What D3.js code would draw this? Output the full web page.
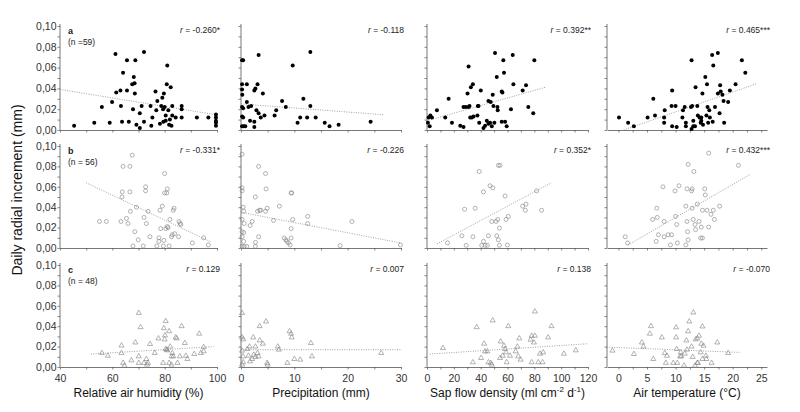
<!DOCTYPE html>
<html>
<head>
<meta charset="utf-8">
<script src="https://cdn.jsdelivr.net/npm/d3@7"></script>
<style>
  body { margin: 0; background: #fff; }
  text { font-family: "Liberation Sans", Arial, sans-serif; }
</style>
</head>
<body>
<script>
// row a: filled circles, row b: open circles, row c: open triangles
// each array holds [x, y] pairs
const humA = [[45.4,0.004],[53.1,0.007],[56,0.022],[59,0.007],[59.9,0.027],[61.2,0.073],[61.5,0.036],[63.1,0.038],[63.3,0.023],[63.7,0.008],[64.1,0.055],[65.6,0.067],[65.6,0.038],[66.3,0.008],[67.6,0.044],[67.9,0.020],[68.2,0.051],[68.5,0.045],[68.8,0.067],[68.6,0.035],[69.2,0.005],[70.5,0.002],[70.5,0.016],[71.2,0.023],[72.1,0.075],[72.1,0.008],[74.6,0.023],[74.9,0.004],[75.3,0.012],[76.5,0.037],[76.8,0.019],[77.2,0.028],[78.2,0.006],[78.7,0.023],[79.1,0.031],[79.4,0.020],[79.5,0.008],[79.7,0.035],[80,0.022],[80.4,0.014],[80.4,0.009],[80.8,0.044],[81,0.062],[81.4,0.019],[81.7,0.005],[82,0.010],[82.3,0.041],[82.6,0.004],[82.9,0.023],[82.9,0.014],[84.2,0.012],[86.5,0.023],[86.5,0.020],[86.5,0.012],[92.3,0.012],[96.7,0.012],[99.6,0.015],[99.6,0.012],[99.6,0.009],[99.6,0.007],[99.6,0.004]];
const preA = [[0.2,0.067],[0.4,0.067],[0.2,0.044],[0.2,0.039],[0.25,0.034],[0.2,0.022],[0.4,0.021],[0.2,0.013],[0.4,0.012],[0.2,0.0035],[0.5,0.0035],[0.8,0.0035],[1.1,0.044],[1.1,0.027],[1.4,0.022],[1.7,0.009],[1.9,0.023],[2.5,0.038],[2.7,0.040],[2.5,0.008],[2.5,0.003],[2.9,0.019],[3.1,0.044],[3.3,0.072],[3.3,0.016],[3.7,0.012],[4.1,0.035],[4.4,0.014],[6.3,0.014],[6.6,0.019],[7.7,0.028],[8.4,0.022],[9.7,0.062],[10.6,0.007],[11.1,0.012],[11.7,0.030],[12.4,0.012],[13,0.075],[13,0.023],[14,0.012],[15.7,0.007],[16.6,0.0035],[18.3,0.005],[24.3,0.008]];
const sapA = [[0.7,0.007],[1.2,0.012],[2,0.0035],[2.5,0.014],[3.7,0.012],[7.4,0.019],[13.6,0.012],[16.1,0.030],[18.6,0.007],[24.8,0.004],[27.2,0.022],[27.2,0.003],[28.9,0.022],[30.2,0.035],[31,0.061],[31,0.022],[31.7,0.023],[32.2,0.012],[32.7,0.041],[33.4,0.012],[34.2,0.044],[34.7,0.013],[37.6,0.014],[37.9,0.023],[38.4,0.023],[38.9,0.007],[40.1,0.038],[42.1,0.002],[43.3,0.004],[44.6,0.009],[45.8,0.028],[45.8,0.006],[47,0.007],[47.5,0.027],[48.3,0.0035],[49,0.034],[49.5,0.023],[50.2,0.007],[50.7,0.074],[52,0.051],[52.5,0.022],[52.7,0.019],[55.7,0.037],[56.2,0.036],[55.7,0.008],[56.9,0.067],[57.4,0.055],[58.2,0.008],[59.4,0.0035],[62.6,0.020],[63.9,0.072],[64.4,0.044],[71.3,0.038],[73.8,0.043],[75.5,0.022],[79.2,0.016],[80,0.067]];
const tmpA = [[0.1,0.012],[1.7,0.007],[2.7,0.0035],[5.1,0.012],[6.1,0.030],[6.4,0.014],[8,0.012],[8,0.007],[8.1,0.019],[9.3,0.023],[9.4,0.038],[9.4,0.0035],[10,0.023],[10.2,0.003],[11.2,0.012],[11.3,0.019],[11.6,0.022],[11.8,0.007],[11.8,0.0035],[12.7,0.022],[12.8,0.067],[12.8,0.001],[12.9,0.023],[13.1,0.0035],[13.1,0.009],[13.4,0.0035],[13.5,0.041],[13.8,0.023],[13.9,0.014],[14.2,0.012],[14.4,0.007],[14.5,0.009],[14.5,0.012],[14.7,0.035],[14.8,0.005],[15.2,0.051],[15.4,0.014],[15.5,0.044],[15.6,0.022],[15.7,0.007],[15.9,0.019],[16,0.012],[16.4,0.072],[16.5,0.008],[16.6,0.062],[16.9,0.022],[17.4,0.074],[17.4,0.035],[17.7,0.016],[17.8,0.043],[17.9,0.037],[18.2,0.034],[18.4,0.028],[18.5,0.007],[19.2,0.027],[19.5,0.038],[20.5,0.044],[21.6,0.067],[22.2,0.055]];

const humB = [[55.1,0.026],[57.7,0.026],[63.3,0.026],[63.7,0.050],[63.8,0.055],[64.1,0.080],[65.4,0.029],[66,0.024],[66.7,0.080],[66.7,0.055],[66.9,0.036],[67.6,0.091],[67.9,0.002],[68.6,0.016],[69.2,0.040],[69.9,0.008],[71.8,0.002],[72.1,0.030],[72.7,0.060],[72.7,0.056],[73,0.024],[73.7,0.036],[74.4,0.011],[77,0.002],[77.8,0.010],[77.8,0.0065],[78.2,0.037],[78.5,0.019],[79.1,0.041],[79.5,0.002],[79.7,0.0075],[80,0.054],[80,0.073],[80.4,0.019],[80.8,0.054],[81,0.058],[81,0.021],[81.3,0.020],[81.7,0.002],[82,0.028],[82.6,0.011],[82.9,0.013],[83.3,0.037],[83.6,0.039],[83.8,0.014],[85.3,0.011],[85.5,0.026],[85.9,0.024],[86.2,0.023],[90.6,0.005],[94.9,0.010],[96.7,0.003]];
const preB = [[0.2,0.092],[0.2,0.059],[0.2,0.056],[0.4,0.040],[0.5,0.036],[0.2,0.028],[0.6,0.024],[0.2,0.016],[0.5,0.015],[0.2,0.011],[0.5,0.0065],[0.2,0.0016],[0.6,0.0016],[1.1,0.0016],[1.7,0.022],[2.1,0.026],[2.7,0.050],[2.7,0.0055],[2.7,0.0016],[3.1,0.036],[3.3,0.080],[3.3,0.011],[3.5,0.037],[3.7,0.037],[4.6,0.073],[4.6,0.036],[4.7,0.058],[4.9,0.039],[6.1,0.027],[7.2,0.041],[8.1,0.0098],[8.4,0.008],[8.6,0.0065],[8.9,0.005],[9.2,0.003],[9.4,0.054],[9.5,0.054],[9.4,0.019],[9.4,0.0098],[9.7,0.028],[12.5,0.031],[12.5,0.024],[18.6,0.0023],[20.8,0.026],[29.9,0.003]];
const sapB = [[15.3,0.005],[26,0.012],[28,0.038],[29.2,0.0026],[34.2,0.011],[35.9,0.039],[38.9,0.075],[40.8,0.0026],[42.1,0.055],[42.1,0.0065],[43.3,0.0026],[45,0.0026],[45.8,0.012],[47,0.061],[49,0.059],[48.3,0.026],[51.5,0.026],[52,0.012],[52.7,0.028],[53.2,0.008],[53.2,0.081],[54.5,0.081],[54,0.0195],[54,0.0026],[58.2,0.051],[58.9,0.028],[59.9,0.003],[60.6,0.031],[71.3,0.041],[73.3,0.037],[73.8,0.043],[81.7,0.056],[85.4,0.037]];
const tmpB = [[1.2,0.011],[1.6,0.005],[6,0.028],[6.6,0.0065],[6.7,0.039],[6.8,0.030],[7,0.013],[7.8,0.060],[8,0.026],[8,0.011],[8.7,0.013],[9.3,0.013],[9.1,0.003],[9.9,0.056],[10,0.031],[10.2,0.023],[10.3,0.005],[10.6,0.061],[11.8,0.041],[11.8,0.003],[12,0.026],[12.1,0.016],[12.2,0.008],[12.2,0.082],[12,0.058],[12.8,0.056],[12.9,0.058],[12.9,0.039],[13.1,0.028],[13.2,0.075],[13.4,0.023],[13.5,0.018],[13.8,0.043],[14.1,0.026],[14.4,0.0098],[14.7,0.0098],[14.5,0.0205],[14.7,0.037],[15.1,0.058],[15.2,0.052],[15.5,0.037],[15.8,0.0205],[15.8,0.093],[16.2,0.033],[16.6,0.037],[16.8,0.028],[17.7,0.041],[21,0.081]];

const humC = [[56,0.0137],[58.3,0.011],[63.5,0.021],[63.5,0.0137],[64.1,0.004],[64.6,0.0013],[67.3,0.0065],[68.8,0.024],[70.1,0.053],[70.1,0.0104],[70.8,0.039],[70.1,0.004],[72.1,0.004],[73,0.0078],[73.3,0.0023],[73.6,0.004],[74.4,0.0225],[76.2,0.0137],[77.6,0.028],[79.4,0.004],[79.7,0.038],[80,0.027],[80.1,0.031],[80.4,0.045],[80.4,0.0176],[80.8,0.017],[81,0.0163],[81.7,0.035],[81.7,0.004],[82.1,0.020],[82.6,0.0023],[82.7,0.0104],[82.9,0.0137],[83.3,0.0104],[84.2,0.029],[84.6,0.028],[84.9,0.004],[85.8,0.0104],[86.5,0.040],[87.7,0.0235],[88.1,0.011],[88.7,0.0078],[91.3,0.0127],[93.2,0.0326],[93.8,0.0137],[94.9,0.0195],[94.9,0.0153]];
const preC = [[0.2,0.053],[0.2,0.029],[0.4,0.027],[0.2,0.016],[0.4,0.0104],[0.4,0.0046],[0.2,0.0023],[1.2,0.0176],[1.4,0.011],[1.6,0.020],[1.7,0.0055],[2.1,0.0078],[2.3,0.029],[2.4,0.012],[2.7,0.020],[2.7,0.0098],[3.1,0.0137],[3.3,0.0104],[3.5,0.040],[3.5,0.026],[4.1,0.0228],[4.7,0.0446],[4.9,0.004],[5,0.0023],[6.9,0.020],[7.1,0.017],[8.7,0.004],[9.1,0.035],[9.4,0.0326],[9.5,0.029],[10,0.0078],[11.1,0.0072],[13.1,0.0235],[13.3,0.0104],[26.3,0.0137]];
const sapC = [[11.9,0.0186],[34.2,0.0046],[37.1,0.039],[40.3,0.0088],[42.6,0.0228],[43.3,0.0153],[45,0.0153],[45.8,0.0046],[47.5,0.004],[48.3,0.0023],[49,0.0456],[54.5,0.0088],[54.9,0.025],[56.4,0.011],[57.4,0.0208],[58.2,0.0176],[58.9,0.0143],[59.4,0.0046],[60.6,0.040],[61.9,0.011],[66.1,0.0153],[67.3,0.020],[68,0.0104],[68.8,0.028],[69.8,0.0072],[77.2,0.0267],[78,0.0046],[78,0.0306],[79.7,0.024],[80.4,0.0544],[80.4,0.0306],[82.9,0.0046],[84.2,0.013],[86.1,0.0046],[86.6,0.0143],[90.3,0.029],[92.8,0.040],[102,0.013],[110.9,0.0163]];
const tmpC = [[-1.05,0.016],[2.7,0.0127],[4.1,0.024],[4.4,0.020],[5.5,0.0326],[5.7,0.040],[6.1,0.0078],[7.6,0.029],[8.1,0.0137],[8.5,0.011],[8.3,0.004],[9.6,0.004],[10.1,0.029],[10.1,0.0388],[10.2,0.0176],[10.3,0.004],[10.8,0.0104],[10.9,0.0143],[11,0.0104],[11.5,0.0013],[11.6,0.013],[11.9,0.026],[12,0.017],[12.2,0.035],[12.4,0.0446],[12.8,0.020],[13,0.0098],[13.1,0.0534],[13.4,0.0013],[13.5,0.027],[13.8,0.004],[13.9,0.004],[13.8,0.028],[14.1,0.0306],[14.4,0.0143],[14.5,0.0228],[14.7,0.0397],[14.7,0.0078],[14.9,0.0208],[15.3,0.011],[15.4,0.0078],[16.3,0.004],[17.3,0.024],[19.2,0.0137]];

// fitted lines: [x0, y0, x1, y1]
const fitsA = [[40,0.039,100,0.0145],[0,0.025,26.7,0.0147],[1.2,0.0093,88,0.041],[0.9,0,24.1,0.0444]];
const fitsB = [[50,0.064,98,0.0055],[0,0.035,29.9,0.005],[7.4,0.004,92.8,0.064],[1.7,0.003,23,0.072]];
const fitsC = [[51.8,0.0127,98.7,0.020],[0,0.017,30,0.017],[2,0.0127,120,0.0228],[-2,0.0195,21.2,0.0143]];

const rLabels = [["-0.260*","-0.118","0.392**","0.465***"],
                 ["-0.331*","-0.226","0.352*","0.432***"],
                 ["0.129","0.007","0.138","-0.070"]];
const rowLetters = ["a","b","c"];
const nLabels = ["(n =59)","(n = 56)","(n = 48)"];

const xDomains = [[40,100],[0,30],[0,120],[-2,26]];
const xLabelTicks = [[40,60,80,100],[0,10,20,30],[0,20,40,60,80,100,120],[0,5,10,15,20,25]];
const xTickStep = [10,5,10,2.5];
const yLabelTicks = [0,0.02,0.04,0.06,0.08,0.10];

function main(){
    const canvasWidth = 800;
    const canvasHeight = 412;

    const svg = d3.select("body").append("svg")
        .attr("width", canvasWidth)
        .attr("height", canvasHeight);

    const colLeft = [60, 241, 427, 607];
    const colWidth = [157, 160, 161, 160];
    const rowTop = [26, 146, 265];
    const rowBottom = [130, 248, 367];

    const points = [[humA, preA, sapA, tmpA], [humB, preB, sapB, tmpB], [humC, preC, sapC, tmpC]];
    const fits = [fitsA, fitsB, fitsC];
    const axisColor = "#555";
    const markColor = "#808080";
    const comma = d => d3.format(".2f")(d).replace(".", ",");
    const triangle = d3.symbol().type(d3.symbolTriangle).size(11);

    for (let r = 0; r < 3; r++){
        for (let c = 0; c < 4; c++){
            const xScale = d3.scaleLinear().domain(xDomains[c]).range([colLeft[c], colLeft[c] + colWidth[c]]);
            const yScale = d3.scaleLinear().domain([0, 0.1]).range([rowBottom[r], rowTop[r]]);

            const g = svg.append("g");

            // x axis
            const xd = xDomains[c];
            const xTicks = d3.range(Math.ceil(xd[0] / xTickStep[c]) * xTickStep[c], xd[1] + 0.001, xTickStep[c]);
            const xAxis = g.append("g")
                .attr("transform", "translate(0," + rowBottom[r] + ")")
                .call(d3.axisBottom(xScale).tickValues(xTicks).tickSize(2.5).tickSizeOuter(0)
                    .tickFormat(d => (r === 2 && xLabelTicks[c].includes(d)) ? d : ""));
            xAxis.select(".domain").attr("stroke", axisColor).attr("stroke-width", 0.8);
            xAxis.selectAll(".tick line").attr("stroke", axisColor).attr("stroke-width", 0.7);
            xAxis.selectAll(".tick text")
                .attr("font-size", "10.5px")
                .attr("font-family", "Liberation Sans, Arial, sans-serif")
                .attr("fill", "#333")
                .attr("dy", "0.9em");

            // y axis
            const yAxis = g.append("g")
                .attr("transform", "translate(" + colLeft[c] + ",0)")
                .call(d3.axisLeft(yScale).tickValues(d3.range(0, 0.1001, 0.01)).tickSize(2.5).tickSizeOuter(0)
                    .tickFormat(d => (c === 0 && yLabelTicks.some(v => Math.abs(v - d) < 1e-6)) ? comma(d) : ""));
            yAxis.select(".domain")
                .attr("d", "M0," + rowBottom[r] + "V" + (rowTop[r] - 2))
                .attr("stroke", axisColor).attr("stroke-width", 0.8);
            yAxis.selectAll(".tick line").attr("stroke", axisColor).attr("stroke-width", 0.7);
            yAxis.selectAll(".tick text")
                .attr("font-size", "10.5px")
                .attr("font-family", "Liberation Sans, Arial, sans-serif")
                .attr("fill", "#333")
                .attr("x", -3.5);

            // fitted line
            const f = fits[r][c];
            g.append("line")
                .attr("x1", xScale(f[0])).attr("y1", yScale(f[1]))
                .attr("x2", xScale(f[2])).attr("y2", yScale(f[3]))
                .attr("stroke", "#8a8a8a")
                .attr("stroke-width", 0.8)
                .attr("stroke-dasharray", "1,1.4");

            // points
            const data = points[r][c];
            if (r === 0){
                g.selectAll("circle").data(data).enter().append("circle")
                    .attr("cx", d => xScale(d[0]))
                    .attr("cy", d => yScale(d[1]))
                    .attr("r", 2)
                    .attr("fill", "#000");
            } else if (r === 1){
                g.selectAll("circle").data(data).enter().append("circle")
                    .attr("cx", d => xScale(d[0]))
                    .attr("cy", d => yScale(d[1]))
                    .attr("r", 2)
                    .attr("fill", "none")
                    .attr("stroke", markColor)
                    .attr("stroke-width", 0.6);
            } else {
                g.selectAll("path.tri").data(data).enter().append("path")
                    .attr("class", "tri")
                    .attr("transform", d => "translate(" + xScale(d[0]) + "," + yScale(d[1]) + ")")
                    .attr("d", triangle)
                    .attr("fill", "none")
                    .attr("stroke", markColor)
                    .attr("stroke-width", 0.6);
            }

            // r label
            const rt = g.append("text")
                .attr("x", colLeft[c] + colWidth[c] + 3)
                .attr("y", rowTop[r] + 7)
                .attr("text-anchor", "end")
                .attr("font-size", "8.5px")
                .attr("fill", "#222");
            rt.append("tspan").attr("font-style", "italic").text("r");
            rt.append("tspan").text(" = " + rLabels[r][c]);
        }

        svg.append("text")
            .attr("x", colLeft[0] + 8)
            .attr("y", rowTop[r] + 7.5)
            .attr("font-size", "9px")
            .attr("font-weight", "bold")
            .attr("fill", "#222")
            .text(rowLetters[r]);

        svg.append("text")
            .attr("x", colLeft[0] + 8)
            .attr("y", rowTop[r] + 19)
            .attr("font-size", "8.5px")
            .attr("fill", "#222")
            .text(nLabels[r]);
    }

    // axis titles
    const titleY = 397;
    const titles = ["Relative air humidity (%)", "Precipitation (mm)", null, "Air temperature (\u00B0C)"];
    titles.forEach((t, c) => {
        if (t === null) return;
        svg.append("text")
            .attr("x", colLeft[c] + colWidth[c] / 2)
            .attr("y", titleY)
            .attr("text-anchor", "middle")
            .attr("font-size", "12px")
            .attr("fill", "#111")
            .text(t);
    });

    const sap = svg.append("text")
        .attr("x", colLeft[2] + colWidth[2] / 2)
        .attr("y", titleY)
        .attr("text-anchor", "middle")
        .attr("font-size", "12px")
        .attr("fill", "#111");
    sap.append("tspan").text("Sap flow density (ml cm");
    sap.append("tspan").attr("font-size", "8px").attr("dy", -5).text("-2");
    sap.append("tspan").attr("dy", 5).text(" d");
    sap.append("tspan").attr("font-size", "8px").attr("dy", -5).text("-1");
    sap.append("tspan").attr("dy", 5).text(")");

    svg.append("text")
        .attr("transform", "translate(22,190) rotate(-90)")
        .attr("text-anchor", "middle")
        .attr("font-size", "14px")
        .attr("fill", "#111")
        .text("Daily radial increment (mm)");
}
main();
</script>
</body>
</html>
